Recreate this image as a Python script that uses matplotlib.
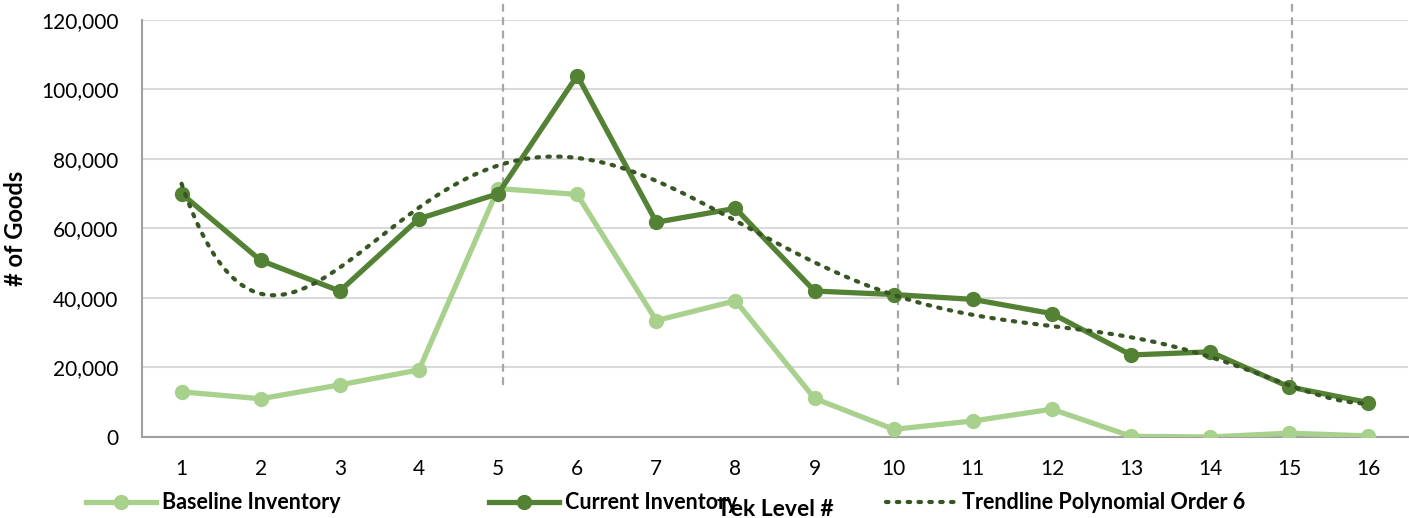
import numpy as np
import matplotlib
matplotlib.use("agg")
import matplotlib.pyplot as plt
from matplotlib.ticker import FuncFormatter

plt.rcParams["font.family"] = ["Lato", "DejaVu Sans"]

# data
tek_levels = np.arange(1, 17)
baseline = [13000, 11000, 15000, 19300, 71500, 69800, 33500, 39200,
            11100, 2200, 4600, 8000, 200, 0, 1100, 300]
current = [70000, 50800, 42000, 62800, 70000, 104000, 61800, 65800,
           42000, 41000, 39600, 35500, 23600, 24500, 14400, 9900]
marker_levels = [5.06, 10.06, 15.03]   # grey dashed separators
marker_bottom = 15000

c_base = "#A9D18E"
c_cur = "#548235"
c_trend = "#375623"

fig = plt.figure(figsize=(14.09, 5.18), dpi=100)
ax = fig.add_axes([0.1008, 0.1564, 0.8985, 0.805])

ax.plot(tek_levels, baseline, color=c_base, lw=3.8, marker="o",
        ms=10, label="Baseline Inventory", zorder=3)
ax.plot(tek_levels, current, color=c_cur, lw=3.8, marker="o",
        ms=10, label="Current Inventory", zorder=4)

# excel-style polynomial trendline (order 6) of current inventory
coef = np.polyfit(tek_levels, current, 6)
xs = np.linspace(1, 16, 300)
ax.plot(xs, np.polyval(coef, xs), color=c_trend, lw=3,
        linestyle=(0, (0.6, 2.0)), dash_capstyle="round",
        label="Trendline Polynomial Order 6", zorder=5)

for xv in marker_levels:
    ax.plot([xv, xv], [marker_bottom, 126000], color="#A6A6A6", lw=1.6,
            linestyle=(0, (3.5, 2.5)), clip_on=False, zorder=2)

ax.set_xlim(0.5, 16.5)
ax.set_ylim(0, 120000)
ax.set_xticks(tek_levels)
ax.set_yticks(range(0, 120001, 20000))
ax.yaxis.set_major_formatter(FuncFormatter(lambda v, p: f"{int(v):,}"))
ax.tick_params(axis="both", length=0, labelsize=15, colors="black")
ax.tick_params(axis="x", pad=16)
ax.tick_params(axis="y", pad=17)
ax.grid(axis="y", color="#D9D9D9", lw=1.5)
ax.set_axisbelow(True)
for s in ["top", "right"]:
    ax.spines[s].set_visible(False)
ax.spines["left"].set_color("#A0A0A0")
ax.spines["bottom"].set_color("#A0A0A0")
ax.spines["left"].set_linewidth(1.5)
ax.spines["bottom"].set_linewidth(1.5)

ax.set_ylabel("# of Goods", fontsize=17, fontweight="bold", labelpad=10)
ax.set_xlabel("Tek Level #", fontsize=16.5, fontweight="bold", labelpad=14)

fig.legend(loc="center left", bbox_to_anchor=(0.055, 0.029), ncol=3,
           frameon=False, handlelength=3.25, handletextpad=0.28,
           columnspacing=6.9, borderaxespad=0,
           prop={"size": 15.5, "weight": "bold"})

plt.savefig("out.png", dpi=100)
